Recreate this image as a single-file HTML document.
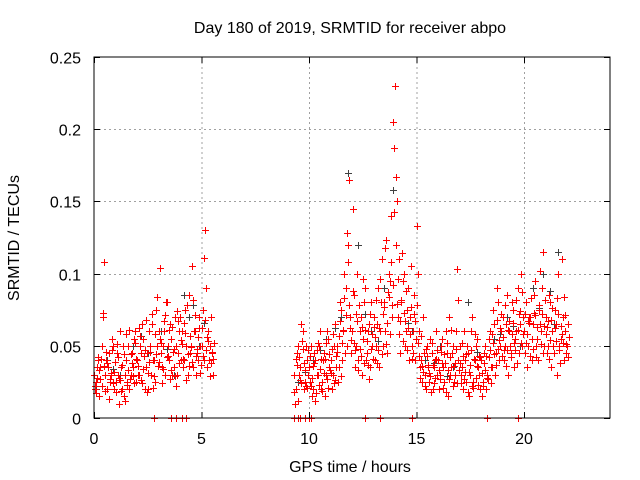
<!DOCTYPE html>
<html><head><meta charset="utf-8"><style>
body{margin:0;background:#fff;}
svg{display:block;font-family:"Liberation Sans",sans-serif;}
</style></head><body>
<svg id="chart" width="640" height="480">
<rect x="0" y="0" width="640" height="480" fill="#fff"/>
<g id="grid"></g>
<g id="marks"></g>
<rect x="94" y="57" width="516" height="361" fill="none" stroke="#000" stroke-width="1"/>
<g id="ticks"></g>
<text x="350" y="33" text-anchor="middle" font-size="16">Day 180 of 2019, SRMTID for receiver abpo</text>
<text x="19" y="238" text-anchor="middle" font-size="16" transform="rotate(-90 19 238)">SRMTID / TECUs</text>
<text x="350" y="472" text-anchor="middle" font-size="16">GPS time / hours</text>
</svg>
<script>
const xTicks=[0,5,10,15,20];
const yTicks=[0,0.05,0.1,0.15,0.2,0.25];
const yTickLabels=["0","0.05","0.1","0.15","0.2","0.25"];
const seg1Hours=[0.0,0.1,0.2,0.3,0.4,0.5,0.6,0.7,0.8,0.9,1.0,1.1,1.2,1.3,1.4,1.5,1.6,1.7,1.8,1.9,2.0,2.1,2.2,2.3,2.4,2.5,2.6,2.7,2.8,2.9,3.0,3.1,3.2,3.3,3.4,3.5,3.6,3.7,3.8,3.9,4.0,4.1,4.2,4.3,4.4,4.5,4.6,4.7,4.8,4.9,5.0,5.1,5.2,5.3,5.4,5.5];
const seg1ValsA=[0.03,0.025,0.04,0.035,0.07,0.03,0.02,0.045,0.03,0.05,0.025,0.03,0.06,0.02,0.015,0.04,0.05,0.03,0.035,0.06,0.04,0.03,0.045,0.055,0.035,0.02,0.05,0.065,0.04,0.075,0.06,0.045,0.05,0.03,0.08,0.04,0.055,0.035,0.05,0.045,0.07,0.06,0.04,0.05,0.085,0.05,0.035,0.06,0.045,0.07,0.05,0.04,0.09,0.06,0.05,0.045];
const seg1ValsB=[0.02,0.035,0.015,0.05,0.108,0.04,0.035,0.025,0.055,0.02,0.045,0.01,0.035,0.05,0.03,0.025,0.02,0.045,0.055,0.025,0.03,0.05,0.065,0.02,0.045,0.06,0.03,0.04,0.025,0.05,0.104,0.035,0.06,0.08,0.05,0.065,0.03,0.07,0.03,0.06,0.04,0.035,0.075,0.03,0.045,0.105,0.06,0.03,0.04,0.05,0.075,0.13,0.035,0.04,0.07,0.03];
const seg1ValsC=[0.022,0.028,0.033,0.041,0.073,0.019,0.038,0.027,0.047,0.032,0.018,0.042,0.026,0.037,0.012,0.023,0.061,0.044,0.029,0.052,0.036,0.057,0.024,0.043,0.068,0.031,0.046,0.021,0.058,0.084,0.039,0.052,0.034,0.071,0.043,0.027,0.063,0.048,0.022,0.067,0.054,0.041,0.059,0.078,0.036,0.049,0.082,0.043,0.056,0.031,0.062,0.111,0.047,0.053,0.038,0.041];
const seg1ValsD=[0.017,0.042,0.027,0.022,0.036,0.046,0.013,0.031,0.024,0.039,0.051,0.028,0.019,0.044,0.058,0.033,0.027,0.038,0.024,0.041,0.062,0.026,0.034,0.047,0.018,0.039,0.072,0.029,0.044,0.036,0.055,0.024,0.067,0.042,0.061,0.033,0.046,0.029,0.074,0.038,0.051,0.066,0.026,0.044,0.057,0.039,0.071,0.048,0.062,0.037,0.043,0.068,0.056,0.029,0.046,0.052];
const seg2Hours=[9.3,9.4,9.5,9.6,9.7,9.8,9.9,
10.0,10.1,10.2,10.3,10.4,10.5,10.6,10.7,10.8,10.9,
11.0,11.1,11.2,11.3,11.4,11.5,11.6,11.7,11.8,11.9,
12.0,12.1,12.2,12.3,12.4,12.5,12.6,12.7,12.8,12.9,
13.0,13.1,13.2,13.3,13.4,13.5,13.6,13.7,13.8,13.9,
14.0,14.1,14.2,14.3,14.4,14.5,14.6,14.7,14.8,14.9,
15.0,15.1,15.2,15.3,15.4,15.5,15.6,15.7,15.8,15.9,
16.0,16.1,16.2,16.3,16.4,16.5,16.6,16.7,16.8,16.9,
17.0,17.1,17.2,17.3,17.4,17.5,17.6,17.7,17.8,17.9,
18.0,18.1,18.2,18.3,18.4,18.5,18.6,18.7,18.8,18.9,
19.0,19.1,19.2,19.3,19.4,19.5,19.6,19.7,19.8,19.9,
20.0,20.1,20.2,20.3,20.4,20.5,20.6,20.7,20.8,20.9,
21.0,21.1,21.2,21.3,21.4,21.5,21.6,21.7,21.8,21.9,22.0];
const seg2ValsA=[0.03,0.02,0.05,0.035,0.06,0.025,0.04,
0.035,0.05,0.02,0.04,0.03,0.06,0.025,0.045,0.03,0.055,
0.04,0.03,0.065,0.05,0.035,0.075,0.06,0.09,0.12,0.07,
0.06,0.085,0.05,0.04,0.07,0.055,0.09,0.045,0.065,0.08,
0.07,0.05,0.09,0.06,0.11,0.08,0.123,0.1,0.14,0.205,
0.23,0.15,0.11,0.08,0.1,0.06,0.09,0.07,0.05,0.085,
0.133,0.06,0.04,0.07,0.03,0.05,0.025,0.045,0.035,0.06,
0.04,0.03,0.055,0.025,0.045,0.07,0.035,0.05,0.03,0.103,
0.05,0.035,0.06,0.025,0.045,0.03,0.07,0.04,0.055,0.03,
0.04,0.025,0.05,0.03,0.06,0.035,0.065,0.045,0.08,0.05,
0.07,0.05,0.085,0.06,0.045,0.075,0.055,0.09,0.065,0.05,
0.06,0.08,0.05,0.07,0.065,0.095,0.055,0.075,0.06,0.115,
0.07,0.05,0.08,0.06,0.045,0.065,0.1,0.055,0.07,0.06,0.05];
const seg2ValsB=[0.01,0.045,0.03,0.065,0.02,0.05,0.03,
0.025,0.015,0.045,0.03,0.05,0.02,0.04,0.015,0.06,0.035,
0.02,0.05,0.035,0.025,0.08,0.04,0.1,0.05,0.165,0.045,
0.145,0.035,0.1,0.06,0.03,0.08,0.04,0.06,0.035,0.05,
0.04,0.065,0.035,0.08,0.05,0.06,0.045,0.095,0.07,0.187,
0.12,0.07,0.045,0.095,0.05,0.075,0.04,0.105,0.06,0.04,
0.1,0.035,0.025,0.045,0.02,0.035,0.055,0.02,0.04,0.03,
0.02,0.05,0.035,0.06,0.015,0.03,0.045,0.025,0.06,0.04,
0.03,0.02,0.04,0.05,0.015,0.06,0.025,0.05,0.035,0.02,
0.015,0.045,0.02,0.055,0.035,0.075,0.03,0.09,0.04,0.06,
0.04,0.065,0.03,0.05,0.08,0.035,0.06,0.045,0.1,0.07,
0.045,0.035,0.07,0.04,0.085,0.05,0.04,0.065,0.09,0.05,
0.045,0.085,0.035,0.05,0.075,0.03,0.05,0.11,0.04,0.045,0.065];
const seg2ValsC=[0.018,0.037,0.042,0.024,0.048,0.033,0.021,
0.043,0.028,0.038,0.017,0.052,0.034,0.019,0.041,0.027,0.044,
0.031,0.058,0.026,0.046,0.067,0.052,0.083,0.071,0.108,0.062,
0.088,0.047,0.067,0.078,0.043,0.096,0.061,0.037,0.072,0.058,
0.063,0.082,0.047,0.096,0.072,0.118,0.066,0.084,0.108,0.092,
0.167,0.096,0.067,0.114,0.073,0.088,0.062,0.077,0.045,0.067,
0.078,0.043,0.057,0.032,0.048,0.037,0.029,0.052,0.024,0.041,
0.033,0.046,0.021,0.038,0.052,0.027,0.061,0.036,0.048,0.082,
0.038,0.052,0.027,0.044,0.032,0.047,0.021,0.058,0.036,0.043,
0.031,0.038,0.043,0.027,0.047,0.058,0.044,0.068,0.054,0.072,
0.056,0.078,0.047,0.067,0.058,0.052,0.082,0.061,0.074,0.087,
0.072,0.058,0.066,0.083,0.048,0.071,0.063,0.102,0.072,0.064,
0.058,0.067,0.054,0.076,0.062,0.083,0.047,0.064,0.052,0.071,0.042];
const seg2ValsD=[0.041,0.012,0.026,0.053,0.038,0.022,0.047,
0.022,0.036,0.012,0.047,0.023,0.041,0.031,0.052,0.021,0.033,
0.048,0.024,0.043,0.057,0.029,0.061,0.045,0.128,0.078,0.054,
0.052,0.072,0.033,0.048,0.063,0.038,0.053,0.027,0.048,0.041,
0.056,0.038,0.062,0.044,0.077,0.051,0.087,0.058,0.078,0.143,
0.079,0.058,0.082,0.053,0.067,0.047,0.058,0.041,0.072,0.055,
0.052,0.028,0.036,0.022,0.043,0.031,0.018,0.037,0.028,0.047,
0.027,0.038,0.044,0.018,0.033,0.042,0.022,0.038,0.024,0.033,
0.024,0.043,0.032,0.018,0.037,0.022,0.041,0.028,0.023,0.042,
0.022,0.033,0.028,0.042,0.024,0.052,0.037,0.048,0.062,0.043,
0.047,0.036,0.061,0.042,0.066,0.047,0.038,0.072,0.052,0.058,
0.052,0.067,0.043,0.055,0.073,0.042,0.078,0.051,0.045,0.082,
0.063,0.041,0.068,0.045,0.053,0.072,0.038,0.058,0.084,0.051,0.056];
const blackHours=[0.1,0.6,1.2,1.8,2.5,3.1,3.7,4.2,4.4,4.9,5.3,0.9,2.2,3.4,4.6,5.1,9.5,10.2,10.8,11.5,11.8,12.3,12.9,13.5,13.9,14.3,14.8,15.4,16.1,16.7,17.4,18.0,18.6,19.2,19.8,20.4,20.9,21.4,21.6,21.9,9.8,10.5,11.2,12.6,13.2,14.6,15.8,16.4,17.8,18.9,19.5,20.7,21.2];
const blackVals=[0.02,0.04,0.03,0.05,0.045,0.06,0.03,0.085,0.07,0.05,0.06,0.034,0.057,0.048,0.078,0.066,0.025,0.04,0.055,0.07,0.17,0.12,0.06,0.09,0.158,0.08,0.06,0.04,0.05,0.035,0.08,0.04,0.055,0.07,0.05,0.09,0.1,0.065,0.115,0.06,0.032,0.047,0.062,0.072,0.053,0.066,0.038,0.029,0.046,0.058,0.064,0.076,0.088];
const zeroHours=[2.8,3.6,3.8,4.1,4.3,9.3,9.5,9.6,9.8,10.0,10.1,12.6,13.3,14.8,18.3,19.7];

const X0=94,X1=610,Y0=418,Y1=57,XMAX=24,YMAX=0.25;
function xs(h){return X0+(X1-X0)*h/XMAX;}
function ys(v){return Y0-(Y0-Y1)*v/YMAX;}
const NS="http://www.w3.org/2000/svg";
const grid=document.getElementById('grid'),ticks=document.getElementById('ticks'),marks=document.getElementById('marks');
function mk(tag,attrs,parent){const e=document.createElementNS(NS,tag);for(const k in attrs)e.setAttribute(k,attrs[k]);parent.appendChild(e);return e;}
xTicks.forEach(t=>{
  const x=xs(t)+0.5;
  if(t>0){const g=mk('line',{x1:x,y1:Y1,x2:x,y2:Y0,stroke:'#a0a0a0','stroke-dasharray':'2,3'},grid);
  
  }
  mk('line',{x1:x,y1:Y0,x2:x,y2:Y0-6,stroke:'#000'},ticks);
  mk('line',{x1:x,y1:Y1,x2:x,y2:Y1+6,stroke:'#000'},ticks);
  const l=mk('text',{x:xs(t),y:Y0+26,'text-anchor':'middle','font-size':16},ticks);
  l.textContent=String(t);
  
  
});
yTicks.forEach((t,i)=>{
  const y=Math.round(ys(t))+0.5;
  if(i>0&&i<yTicks.length-1){const g=mk('line',{x1:X0,y1:y,x2:X1,y2:y,stroke:'#a0a0a0','stroke-dasharray':'2,3'},grid);
  
  }
  mk('line',{x1:X0,y1:y,x2:X0+6,y2:y,stroke:'#000'},ticks);
  mk('line',{x1:X1,y1:y,x2:X1-6,y2:y,stroke:'#000'},ticks);
  const l=mk('text',{x:X0-13,y:y+6,'text-anchor':'end','font-size':16},ticks);
  l.textContent=yTickLabels[i];
  
  
});
function plus(h,v,color,name){
  const x=Math.round(xs(h))+0.5,y=Math.round(ys(v))+0.5;
  const p=mk('path',{d:`M${x-3.5},${y}H${x+3.5}M${x},${y-3.5}V${y+3.5}`,stroke:color,'stroke-width':1,fill:'none'},marks);
  
  
}
blackHours.forEach((h,i)=>plus(h,blackVals[i],'#404040','black-point'));
seg1Hours.forEach((h,i)=>{plus(h,seg1ValsA[i],'#ff0000','red-point');plus(h+0.05,seg1ValsB[i],'#ff0000','red-point');plus(h+0.025,seg1ValsC[i],'#ff0000','red-point');plus(h+0.075,seg1ValsD[i],'#ff0000','red-point');});
seg2Hours.forEach((h,i)=>{plus(h,seg2ValsA[i],'#ff0000','red-point');plus(h+0.05,seg2ValsB[i],'#ff0000','red-point');plus(h+0.025,seg2ValsC[i],'#ff0000','red-point');plus(h+0.075,seg2ValsD[i],'#ff0000','red-point');});
zeroHours.forEach(h=>plus(h,0,'#ff0000','zero-point'));
</script>
</body></html>
